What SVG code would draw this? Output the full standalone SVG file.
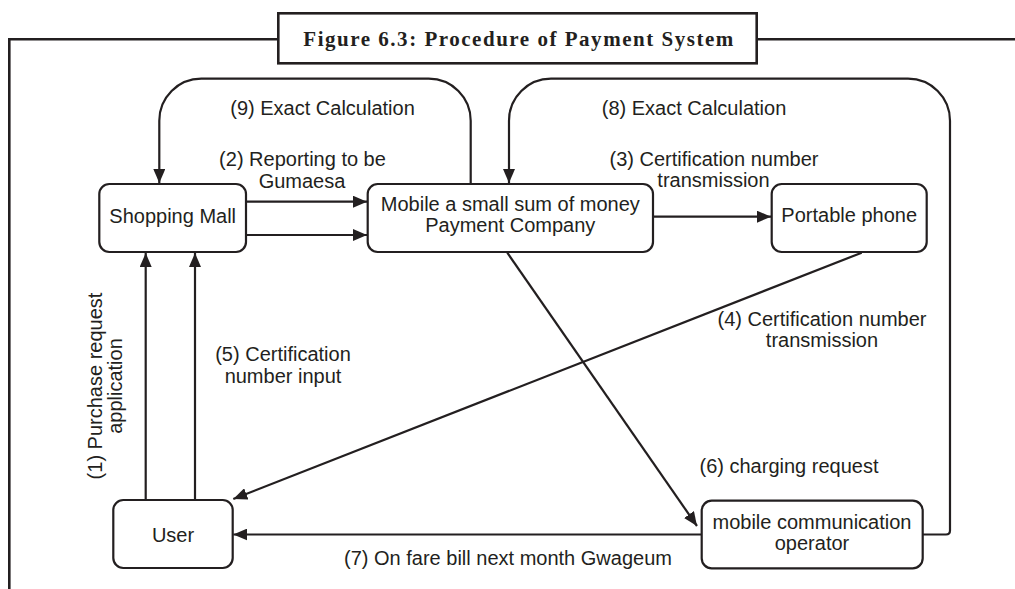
<svg xmlns="http://www.w3.org/2000/svg" width="1015" height="589" viewBox="0 0 1015 589">
<style>
.frame{fill:none;stroke:#231f20;stroke-width:2.6}
.box{fill:#fff;stroke:#231f20;stroke-width:2.2}
.conn{fill:none;stroke:#231f20;stroke-width:2.2}
.t{font-family:"Liberation Sans",Arial,sans-serif;font-size:20px;fill:#231f20;text-anchor:middle}
.title{font-family:"Liberation Serif","Times New Roman",serif;font-size:21px;font-weight:bold;fill:#231f20;text-anchor:middle}
</style>
<defs>
<marker id="ah" markerUnits="userSpaceOnUse" markerWidth="15" markerHeight="12" refX="14" refY="6" orient="auto">
<path d="M0,0 L14,6 L0,12 z" fill="#231f20"/>
</marker>
</defs>
<rect width="1015" height="589" fill="#fff"/>
<g id="frame">
<path class="frame" d="M9.3,589 V39.3 H278.3 M756.7,39.3 H1015"/>
<rect class="frame" x="278.3" y="13.3" width="478.4" height="50"/>
<text class="title" x="518.3" y="45.7" textLength="430" lengthAdjust="spacing">Figure 6.3: Procedure of Payment System</text>
</g>
<g id="connectors">
<path class="conn" marker-end="url(#ah)" d="M470.7,184 V120.7 A42,42 0 0 0 428.7,78.7 H201.3 A42,42 0 0 0 159.3,120.7 V183"/>
<path class="conn" marker-end="url(#ah)" d="M922.7,534.5 H946 Q950,534.5 950,530.5 V120.7 A42,42 0 0 0 908,78.7 H551 A42,42 0 0 0 509,120.7 V183"/>
<path class="conn" marker-end="url(#ah)" d="M246,201.7 H367"/>
<path class="conn" marker-end="url(#ah)" d="M246,235 H367"/>
<path class="conn" marker-end="url(#ah)" d="M653,216.7 H771"/>
<path class="conn" marker-end="url(#ah)" d="M145.7,500 V253"/>
<path class="conn" marker-end="url(#ah)" d="M195,500 V253"/>
<path class="conn" marker-end="url(#ah)" d="M861.7,252.7 L233.3,499"/>
<path class="conn" marker-end="url(#ah)" d="M507.3,252.7 L697,526"/>
<path class="conn" marker-end="url(#ah)" d="M701.7,534.5 H233.3"/>
<text class="t" x="322.5" y="115">(9) Exact Calculation</text>
<text class="t" x="694" y="115">(8) Exact Calculation</text>
<text class="t" x="302.5" y="166">(2) Reporting to be</text>
<text class="t" x="302" y="187.7">Gumaesa</text>
<text class="t" x="714" y="166">(3) Certification number</text>
<text class="t" x="713.5" y="187">transmission</text>
<text class="t" transform="translate(101.7,386) rotate(-90)">(1) Purchase request<tspan x="0" y="20">application</tspan></text>
<text class="t" x="283" y="361">(5) Certification</text>
<text class="t" x="283" y="383">number input</text>
<text class="t" x="822" y="326">(4) Certification number</text>
<text class="t" x="822" y="347">transmission</text>
<text class="t" x="789" y="473">(6) charging request</text>
<text class="t" x="508" y="565">(7) On fare bill next month Gwageum</text>
</g>
<g id="shopping-mall">
<rect class="box" x="99.3" y="184" width="146.7" height="68" rx="10"/>
<text class="t" x="172.7" y="223">Shopping Mall</text>
</g>
<g id="payment-company">
<rect class="box" x="367.7" y="184" width="285.3" height="68" rx="10"/>
<text class="t" x="510.3" y="211">Mobile a small sum of money</text>
<text class="t" x="510.3" y="232">Payment Company</text>
</g>
<g id="portable-phone">
<rect class="box" x="771.7" y="184" width="155" height="68" rx="10"/>
<text class="t" x="849.2" y="222">Portable phone</text>
</g>
<g id="user">
<rect class="box" x="113.3" y="500" width="119.4" height="68" rx="10"/>
<text class="t" x="173" y="542">User</text>
</g>
<g id="operator">
<rect class="box" x="701.7" y="500.7" width="221" height="67.6" rx="10"/>
<text class="t" x="812" y="529">mobile communication</text>
<text class="t" x="812" y="550">operator</text>
</g>
</svg>
